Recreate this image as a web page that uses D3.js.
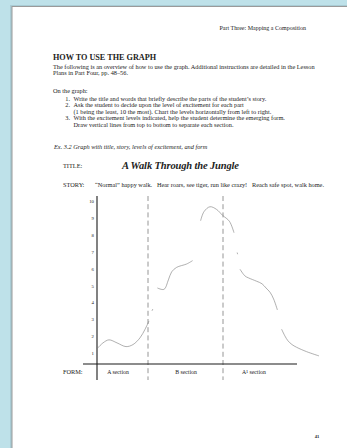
<!DOCTYPE html>
<html>
<head>
<meta charset="utf-8">
<script src="https://cdn.jsdelivr.net/npm/d3@7"></script>
<style>
  html, body { margin: 0; padding: 0; background: #bee1e9; }
  svg { display: block; }
  text { font-family: "Liberation Serif", "DejaVu Serif", serif; fill: #222; }
</style>
</head>
<body>
<svg id="page" width="347" height="448"></svg>
<script>
// excitement curve (null = break in the pen line)
const curveTime = [0, 3, 6, 10, 14.5, 18, 21.5, 24, 26, null,
  27.5, 27.9, null,
  30.2, 33.5, 35.7, 37.3, 39.8, 44.8, 47.8, null,
  51.8, 53.5, 56.5, 59.8, 62.8, 66.2, 68.5, null,
  70.1, 70.3, null,
  71.5, 74, 75.7, 79.8, 82.5, 84.5, 86.5, 88.3, 90.2, null,
  92.3, 94, 95.5, 97.5, 99.8, 104.8, 111];
const curveLevel = [1.25, 1.6, 1.78, 1.6, 1.38, 1.5, 1.9, 2.4, 2.9, null,
  3.5, 3.6, null,
  4.85, 4.77, 5.33, 5.8, 6.07, 6.27, 6.47, null,
  8.83, 9.37, 9.66, 9.5, 9.15, 8.8, 8.12, null,
  6.95, 6.85, null,
  5.96, 5.56, 5.45, 5.25, 5.1, 4.85, 4.6, 4.2, 3.55, null,
  2.41, 2.0, 1.72, 1.5, 1.34, 1.08, 0.83];

const levels = [1, 2, 3, 4, 5, 6, 7, 8, 9, 10];
const sectionBreaks = [25.5, 63];
const sectionNames = ["A section", "B section", "A\u00B9 section"];
const sectionMids = [10.5, 44.5, 78.5];

const storyText = "\u201CNormal\u201D happy walk.   Hear roars, see tiger, run like crazy!   Reach safe spot, walk home.";
const steps = [
  ["1.", "Write the title and words that briefly describe the parts of the student\u2019s  story."],
  ["2.", "Ask the student to decide upon the level of excitement for each part"],
  ["", "(1 being the least, 10 the most). Chart the levels horizontally from left to right."],
  ["3.", "With the excitement levels indicated, help the student determine the emerging form."],
  ["", "Draw vertical lines from top to bottom to separate each section."]
];

class GraphPage {
  constructor(svg_element_id) {
    this.svg = d3.select('#' + svg_element_id);
    this.width = 347;
    this.height = 448;
  }

  drawPaper() {
    const svg = this.svg;
    svg.append("rect").attr("x", 10).attr("y", 5).attr("width", 340).attr("height", 450)
      .attr("fill", "#a9ccd5");
    svg.append("rect").attr("x", 12).attr("y", 6.5).attr("width", 340).attr("height", 450)
      .attr("fill", "#fff").attr("stroke", "#9a9a9a").attr("stroke-width", 1);
  }

  drawText() {
    const svg = this.svg;
    const small = 6.3;
    svg.append("text").attr("x", 306).attr("y", 30).attr("text-anchor", "end")
      .attr("font-size", 6.0).text("Part Three: Mapping a Composition");

    svg.append("text").attr("x", 53).attr("y", 60).attr("font-size", 8.2)
      .attr("font-weight", "bold").attr("fill", "#111").text("HOW TO USE THE GRAPH");

    svg.append("text").attr("x", 53).attr("y", 68.5).attr("font-size", small)
      .text("The following is an overview of how to use the graph. Additional instructions are detailed in the Lesson");
    svg.append("text").attr("x", 53).attr("y", 75).attr("font-size", small)
      .text("Plans in Part Four, pp. 48\u201356.");

    svg.append("text").attr("x", 53).attr("y", 92.5).attr("font-size", small).text("On the graph:");

    const list = svg.append("g");
    steps.forEach((s, i) => {
      const yy = 101 + i * 6.4;
      list.append("text").attr("x", 70).attr("y", yy).attr("text-anchor", "end")
        .attr("font-size", small).text(s[0]);
      list.append("text").attr("x", 73.5).attr("y", yy).attr("font-size", small).text(s[1]);
    });

    svg.append("text").attr("x", 54).attr("y", 149).attr("font-size", small)
      .attr("font-style", "italic").text("Ex. 3.2  Graph with title, story, levels of excitement, and form");

    svg.append("text").attr("x", 63).attr("y", 167.5).attr("font-size", small).text("TITLE:");
    svg.append("text").attr("x", 122).attr("y", 168.5).attr("font-size", 10.5)
      .attr("font-weight", "bold").attr("font-style", "italic").attr("fill", "#111")
      .attr("textLength", 117).text("A Walk Through the Jungle");

    svg.append("text").attr("x", 63).attr("y", 186.5).attr("font-size", small).text("STORY:");
    svg.append("text").attr("x", 95).attr("y", 186.5).attr("font-size", small)
      .attr("xml:space", "preserve").style("white-space", "pre").text(storyText);

    svg.append("text").attr("x", 63).attr("y", 374).attr("font-size", small).text("FORM:");

    svg.append("text").attr("x", 317).attr("y", 438).attr("text-anchor", "middle")
      .attr("font-size", 4.5).attr("font-weight", "bold").text("41");
  }

  drawGraph() {
    const svg = this.svg;
    const x = d3.scaleLinear().domain([0, 100]).range([97, 297]);
    const y = d3.scaleLinear().domain([0.35, 10]).range([364, 201]);
    const top = 196, bottom = 380;

    // level labels
    svg.append("g")
      .attr("transform", `translate(${x(0)},0)`)
      .call(d3.axisLeft(y).tickValues(levels).tickSize(0).tickPadding(3))
      .call(g => g.select(".domain").remove())
      .call(g => g.selectAll("text").attr("font-size", 4.8)
        .attr("font-family", "Liberation Serif").attr("fill", "#333"));

    // section separators
    svg.append("g").selectAll("line").data(sectionBreaks).enter().append("line")
      .attr("x1", d => x(d)).attr("x2", d => x(d))
      .attr("y1", top).attr("y2", bottom)
      .attr("stroke", "#8a8a8a").attr("stroke-width", 0.9)
      .attr("stroke-dasharray", "5,3.2");

    // axes lines
    svg.append("line").attr("x1", x(0)).attr("x2", x(0)).attr("y1", top).attr("y2", bottom)
      .attr("stroke", "#1a1a1a").attr("stroke-width", 1.1);
    svg.append("line").attr("x1", 83).attr("x2", x(100)).attr("y1", y(0.35)).attr("y2", y(0.35))
      .attr("stroke", "#1a1a1a").attr("stroke-width", 1.1);

    // section names
    svg.append("g").selectAll("text").data(sectionNames).enter().append("text")
      .attr("x", (d, i) => x(sectionMids[i])).attr("y", 374)
      .attr("text-anchor", "middle").attr("font-size", 5.8).text(d => d);

    // excitement curve
    const pts = curveTime.map((t, i) => [t, curveLevel[i]]);
    const line = d3.line()
      .defined(d => d[0] != null && d[1] != null)
      .x(d => x(d[0])).y(d => y(d[1]))
      .curve(d3.curveCatmullRom);
    svg.append("path").datum(pts)
      .attr("fill", "none").attr("stroke", "#7a7a7a").attr("stroke-width", 0.6)
      .attr("d", line);
  }

  draw() {
    this.drawPaper();
    this.drawText();
    this.drawGraph();
  }
}

function whenDocumentLoaded(action) {
  if (document.readyState === "loading") {
    document.addEventListener("DOMContentLoaded", action);
  } else {
    action();
  }
}

whenDocumentLoaded(() => {
  const page = new GraphPage('page');
  page.draw();
});
</script>
</body>
</html>
